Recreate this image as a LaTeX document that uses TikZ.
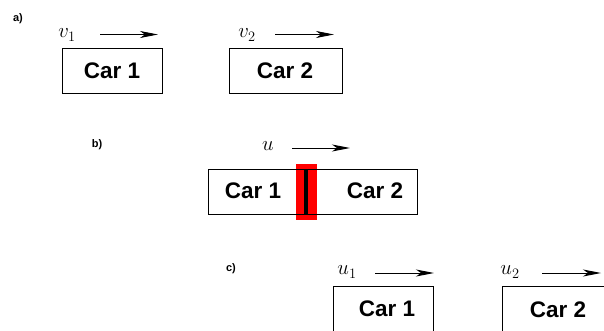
\documentclass[tikz,border=0pt]{standalone}
\usepackage{fontspec}
\setsansfont{Liberation Sans}
\usetikzlibrary{arrows.meta}
\begin{document}
\begin{tikzpicture}[x=1pt,y=-1pt,
  car/.style={draw=black,line width=0.9pt,inner sep=0pt,anchor=north west},
  cartext/.style={font=\sffamily\bfseries\fontsize{22.5}{26}\selectfont,inner sep=0pt},
  lbl/.style={font=\sffamily\bfseries\fontsize{11}{13}\selectfont,inner sep=0pt},
  vel/.style={font=\fontsize{22}{26}\selectfont,inner sep=0pt},
  mv/.style={line width=0.9pt,-{Stealth[length=18pt,width=7pt,inset=5pt]}}]
\useasboundingbox (0,0) rectangle (604,331);
% a)
\node[lbl] (la) at (18,19) {a)};
\node[vel] (v1) at (67,35) {$v_1$};
\coordinate (a1s) at (100,34.5); \coordinate (a1e) at (158,34.5);
\draw[mv] (a1s) -- (a1e);
\node[car,minimum width=100pt,minimum height=45pt] (c1) at (62,48) {};
\node[cartext] (t1) at (112,71) {Car 1};
\node[vel] (v2) at (247,35) {$v_2$};
\coordinate (a2s) at (275,34.5); \coordinate (a2e) at (334,34.5);
\draw[mv] (a2s) -- (a2e);
\node[car,minimum width=113pt,minimum height=45pt] (c2) at (229,48) {};
\node[cartext] (t2) at (285,71) {Car 2};
% b)
\node[lbl] (lb) at (97,145) {b)};
\node[vel] (u) at (268,146) {$u$};
\coordinate (bs) at (292,148); \coordinate (be) at (350,148);
\draw[mv] (bs) -- (be);
\node[car,minimum width=209pt,minimum height=45pt] (cb) at (208,169) {};
\fill[red] (296,164) rectangle (317,220);
\draw[line width=0.9pt] (208,169) -- (417,169);
\draw[line width=0.9pt] (208,214) -- (417,214);
\fill[black] (303.5,169) rectangle (307.5,215);
\node[cartext] (tb1) at (253,191) {Car 1};
\node[cartext] (tb2) at (375,191) {Car 2};
% c)
\node[lbl] (lc) at (231,269) {c)};
\node[vel] (u1) at (347,272) {$u_1$};
\coordinate (c1s) at (375,273); \coordinate (c1e) at (434,273);
\draw[mv] (c1s) -- (c1e);
\draw[line width=0.9pt] (333,340) -- (333,286.5) -- (433,286.5) -- (433,340);
\node[cartext] (tc1) at (387,308.5) {Car 1};
\node[vel] (u2) at (510,272) {$u_2$};
\coordinate (c2s) at (542,273); \coordinate (c2e) at (601,273);
\draw[mv] (c2s) -- (c2e);
\draw[line width=0.9pt] (502,340) -- (502,286.5) -- (610,286.5);
\node[cartext] (tc2) at (558,310) {Car 2};
\end{tikzpicture}
\end{document}
